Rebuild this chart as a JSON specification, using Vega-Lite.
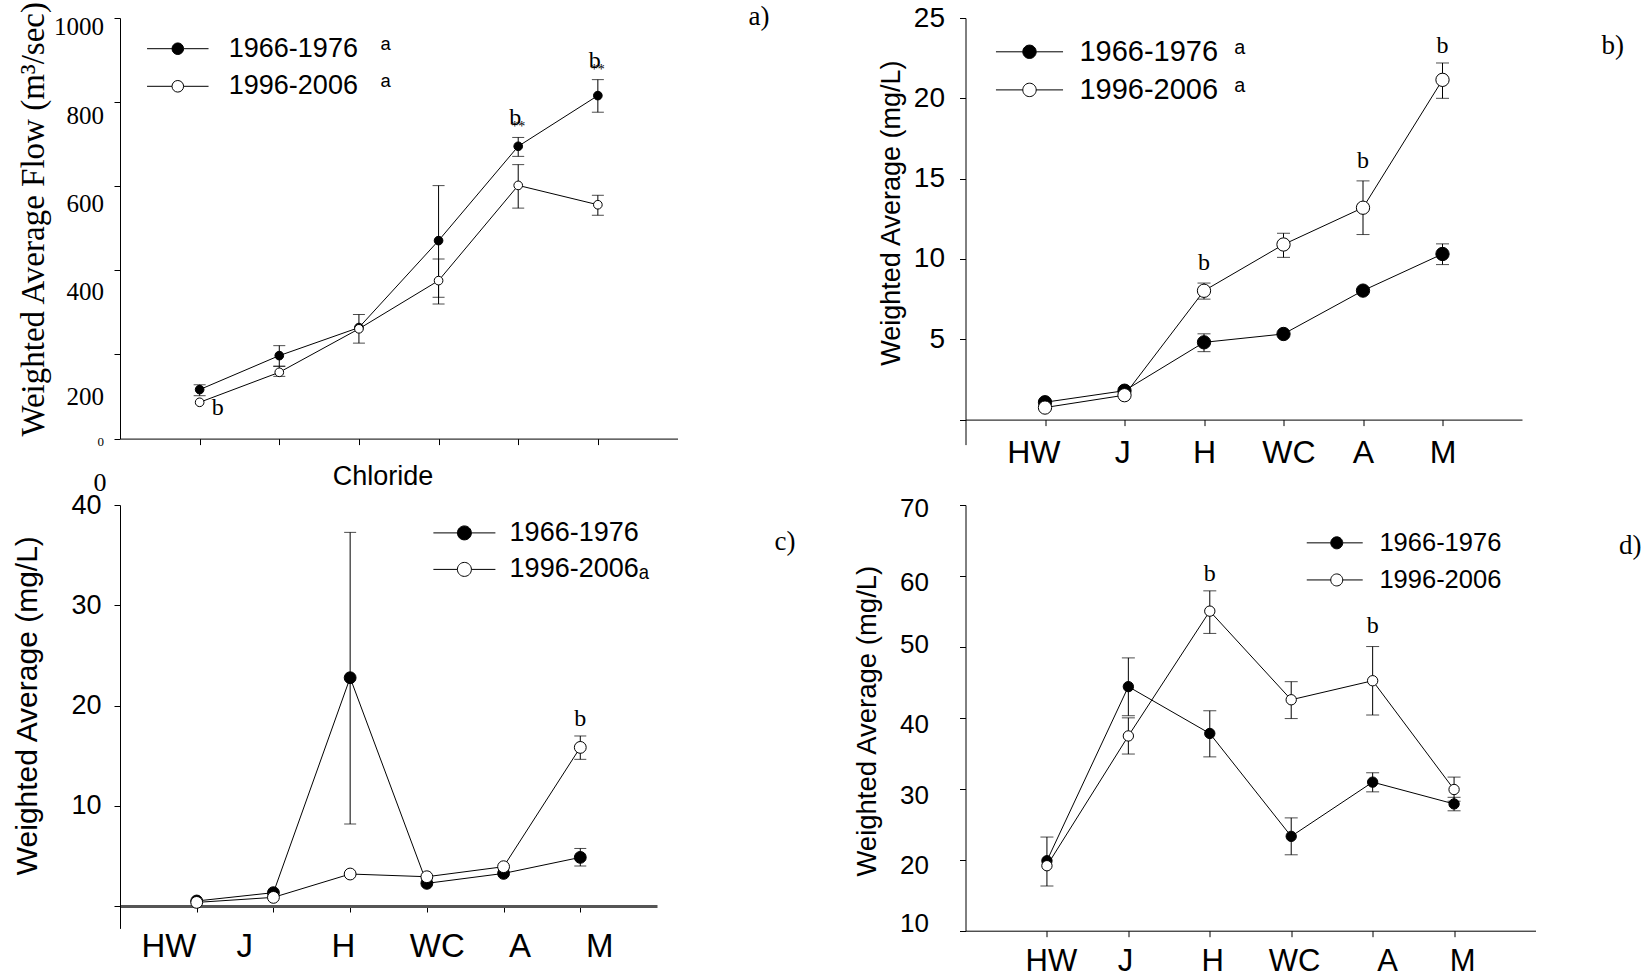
{
  "$schema": "https://vega.github.io/schema/vega-lite/v6.json",
  "padding": {"left": 12, "top": 0, "right": 0, "bottom": 0},
  "background": "white",
  "config": {
    "view": {"stroke": null},
    "axis": {"grid": false, "domainColor": "black", "tickColor": "black", "labelColor": "black", "titleColor": "black", "tickSize": 6, "domainWidth": 1, "tickWidth": 1, "labelFont": "Liberation Sans", "titleFont": "Liberation Sans", "labelFontWeight": "normal", "titleFontWeight": "normal", "labelAngle": 0, "labelOverlap": false, "labelBound": false},
    "legend": {"orient": "none", "padding": 0, "symbolOffset": 0, "labelFont": "Liberation Sans", "labelColor": "black", "labelLimit": 400, "symbolStrokeColor": "black", "symbolStrokeWidth": 1, "symbolOpacity": 1},
    "title": {"font": "Liberation Serif", "fontSize": 27, "fontWeight": "normal", "color": "black", "anchor": "end", "frame": "group", "offset": 0}
  },
  "datasets": {
    "flowA": [
      {"site": "HW", "series": "1966-1976", "value": 116.5, "lo": 102, "hi": 128},
      {"site": "J", "series": "1966-1976", "value": 197.3, "lo": 172, "hi": 221},
      {"site": "H", "series": "1966-1976", "value": 264, "lo": 227, "hi": 295},
      {"site": "WC", "series": "1966-1976", "value": 470.7, "lo": 336, "hi": 601.5},
      {"site": "A", "series": "1966-1976", "value": 695, "lo": 671, "hi": 716},
      {"site": "M", "series": "1966-1976", "value": 815.5, "lo": 776, "hi": 853.5},
      {"site": "HW", "series": "1996-2006", "value": 86.3, "lo": null, "hi": null},
      {"site": "J", "series": "1996-2006", "value": 157.6, "lo": 148, "hi": 172},
      {"site": "H", "series": "1996-2006", "value": 261, "lo": null, "hi": null},
      {"site": "WC", "series": "1996-2006", "value": 375.6, "lo": 320, "hi": 427},
      {"site": "A", "series": "1996-2006", "value": 602, "lo": 548, "hi": 651.4},
      {"site": "M", "series": "1996-2006", "value": 556, "lo": 531, "hi": 578.5}
    ],
    "notesA": [
      {"site": "HW", "text": "b", "value": 72.8},
      {"site": "A", "text": "b", "value": 762},
      {"site": "A", "text": "**", "value": 740},
      {"site": "M", "text": "b", "value": 897},
      {"site": "M", "text": "**", "value": 876}
    ],
    "concB": [
      {"site": "HW", "series": "1966-1976", "value": 1.08, "lo": null, "hi": null},
      {"site": "J", "series": "1966-1976", "value": 1.8, "lo": null, "hi": null},
      {"site": "H", "series": "1966-1976", "value": 4.81, "lo": 4.23, "hi": 5.34},
      {"site": "WC", "series": "1966-1976", "value": 5.33, "lo": null, "hi": null},
      {"site": "A", "series": "1966-1976", "value": 8.03, "lo": null, "hi": null},
      {"site": "M", "series": "1966-1976", "value": 10.31, "lo": 9.65, "hi": 10.94},
      {"site": "HW", "series": "1996-2006", "value": 0.75, "lo": null, "hi": null},
      {"site": "J", "series": "1996-2006", "value": 1.52, "lo": null, "hi": null},
      {"site": "H", "series": "1996-2006", "value": 8.02, "lo": 7.5, "hi": 8.5},
      {"site": "WC", "series": "1996-2006", "value": 10.9, "lo": 10.1, "hi": 11.6},
      {"site": "A", "series": "1996-2006", "value": 13.19, "lo": 11.52, "hi": 14.86},
      {"site": "M", "series": "1996-2006", "value": 21.15, "lo": 20.0, "hi": 22.2}
    ],
    "notesB": [
      {"site": "H", "text": "b", "value": 9.75},
      {"site": "A", "text": "b", "value": 16.08},
      {"site": "M", "text": "b", "value": 23.24}
    ],
    "chlorideC": [
      {"site": "HW", "series": "1966-1976", "value": 0.5, "lo": null, "hi": null},
      {"site": "J", "series": "1966-1976", "value": 1.33, "lo": null, "hi": null},
      {"site": "H", "series": "1966-1976", "value": 22.77, "lo": 8.18, "hi": 37.27},
      {"site": "WC", "series": "1966-1976", "value": 2.26, "lo": null, "hi": null},
      {"site": "A", "series": "1966-1976", "value": 3.25, "lo": null, "hi": null},
      {"site": "M", "series": "1966-1976", "value": 4.85, "lo": 3.99, "hi": 5.74},
      {"site": "HW", "series": "1996-2006", "value": 0.36, "lo": null, "hi": null},
      {"site": "J", "series": "1996-2006", "value": 0.86, "lo": null, "hi": null},
      {"site": "H", "series": "1996-2006", "value": 3.19, "lo": null, "hi": null},
      {"site": "WC", "series": "1996-2006", "value": 2.92, "lo": null, "hi": null},
      {"site": "A", "series": "1996-2006", "value": 3.92, "lo": null, "hi": null},
      {"site": "M", "series": "1996-2006", "value": 15.82, "lo": 14.63, "hi": 16.96}
    ],
    "notesC": [
      {"site": "M", "text": "b", "value": 18.7}
    ],
    "concD": [
      {"site": "HW", "series": "1966-1976", "value": 19.86, "lo": 16.3, "hi": 23.2},
      {"site": "J", "series": "1966-1976", "value": 44.4, "lo": 40.3, "hi": 48.45},
      {"site": "H", "series": "1966-1976", "value": 37.8, "lo": 34.5, "hi": 41},
      {"site": "WC", "series": "1966-1976", "value": 23.3, "lo": 20.7, "hi": 25.9},
      {"site": "A", "series": "1966-1976", "value": 30.94, "lo": 29.57, "hi": 32.26},
      {"site": "M", "series": "1966-1976", "value": 27.87, "lo": 26.9, "hi": 28.8},
      {"site": "HW", "series": "1996-2006", "value": 19.16, "lo": null, "hi": null},
      {"site": "J", "series": "1996-2006", "value": 37.45, "lo": 34.9, "hi": 40.0},
      {"site": "H", "series": "1996-2006", "value": 55.04, "lo": 51.9, "hi": 57.9},
      {"site": "WC", "series": "1996-2006", "value": 42.55, "lo": 39.9, "hi": 45.1},
      {"site": "A", "series": "1996-2006", "value": 45.23, "lo": 40.4, "hi": 50.05},
      {"site": "M", "series": "1996-2006", "value": 29.9, "lo": 28.25, "hi": 31.65}
    ],
    "notesD": [
      {"site": "H", "text": "b", "value": 60.3},
      {"site": "A", "text": "b", "value": 52.9}
    ]
  },
  "concat": [
    {
      "width": 557.5, "height": 420.6,
      "title": {"text": "a)", "dx": 92, "dy": 34},
      "data": {"name": "flowA"},
      "encoding": {
        "x": {"field": "site", "type": "nominal", "sort": ["HW", "J", "H", "WC", "A", "M"], "scale": {"type": "point", "padding": 1},
          "axis": {"labels": false, "title": "Chloride", "titleFontSize": 27, "titleX": 262.5, "titleY": 24.7}},
        "y": {"field": "value", "type": "quantitative", "scale": {"domain": [0, 1000], "nice": false, "zero": false},
          "axis": {"values": [0, 200, 400, 600, 800, 1000], "format": "d", "labelFont": "Liberation Serif",
            "labelFontSize": {"condition": {"test": "datum.value == 0", "value": 13}, "value": 25},
            "labelPadding": 10.5,
            "labelOffset": {"condition": [{"test": "datum.value == 1000", "value": 8}, {"test": "datum.value == 800", "value": 13}, {"test": "datum.value == 600", "value": 17}, {"test": "datum.value == 400", "value": 21}, {"test": "datum.value == 200", "value": 42}, {"test": "datum.value == 0", "value": 3}], "value": 0},
            "title": "Weighted Average Flow (m³/sec)", "titleFont": "Liberation Serif", "titleFontSize": 33, "titleX": -69.5, "titleY": 200.8}}
      },
      "layer": [
        {"mark": {"type": "line", "color": "black", "strokeWidth": 1}, "encoding": {"detail": {"field": "series"}}},
        {"transform": [{"filter": "isValid(datum.lo)"}], "mark": {"type": "errorbar", "ticks": {"size": 12}, "color": "black", "thickness": 1}, "encoding": {"y": {"field": "lo", "type": "quantitative"}, "y2": {"field": "hi"}}},
        {"mark": {"type": "point", "shape": "circle", "filled": true, "size": 75, "stroke": "black", "strokeWidth": 1, "opacity": 1},
          "encoding": {"fill": {"field": "series", "type": "nominal", "scale": {"domain": ["1966-1976", "1996-2006"], "range": ["black", "white"]},
            "legend": {"title": null, "legendX": 44.3, "legendY": 17.2, "labelFontSize": 27, "symbolType": "M-5.3,0L-1,0M1,0L5.3,0M1,0A1,1,0,1,1,-1,0A1,1,0,1,1,1,0Z", "symbolSize": 134.6, "labelOffset": 37.5, "rowPadding": 9.6, "labelExpr": "datum.label + '\u00a0\u00a0\u00a0ᵃ'"}}}},
        {"data": {"name": "notesA"}, "transform": [{"filter": "datum.site != 'HW' && datum.text == 'b'"}], "mark": {"type": "text", "font": "Liberation Serif", "fontSize": 24, "baseline": "middle", "align": "center", "color": "black", "dx": -3}, "encoding": {"text": {"field": "text"}}},
        {"data": {"name": "notesA"}, "transform": [{"filter": "datum.text == '**'"}], "mark": {"type": "text", "font": "Liberation Serif", "fontSize": 14, "baseline": "middle", "align": "center", "color": "black"}, "encoding": {"text": {"field": "text"}}},
        {"data": {"name": "notesA"}, "transform": [{"filter": "datum.site == 'HW'"}], "mark": {"type": "text", "font": "Liberation Serif", "fontSize": 24, "baseline": "middle", "align": "center", "color": "black", "dx": 18}, "encoding": {"text": {"field": "text"}}}
      ]
    },
    {
      "width": 556.5, "height": 426.6,
      "title": {"text": "b)", "dx": 102, "dy": 60.3},
      "data": {"name": "concB"},
      "encoding": {
        "x": {"field": "site", "type": "nominal", "sort": ["HW", "J", "H", "WC", "A", "M"], "scale": {"type": "point", "padding": 1},
          "axis": {"title": null, "offset": -25, "labelFontSize": 32, "labelPadding": 11.6,
            "labelOffset": {"condition": [{"test": "datum.value == 'HW'", "value": -11.7}, {"test": "datum.value == 'J'", "value": -2.3}, {"test": "datum.value == 'WC'", "value": 5}], "value": 0}}},
        "y": {"field": "value", "type": "quantitative", "scale": {"domain": [-1.556, 25], "nice": false, "zero": false},
          "axis": {"values": [0, 5, 10, 15, 20, 25], "labelExpr": "datum.value == 0 ? '' : datum.label", "labelFontSize": 28, "labelPadding": 15,
            "title": "Weighted Average (mg/L)", "titleFontSize": 27, "titleX": -60.5, "titleY": 194.6}}
      },
      "layer": [
        {"mark": {"type": "line", "color": "black", "strokeWidth": 1}, "encoding": {"detail": {"field": "series"}}},
        {"transform": [{"filter": "isValid(datum.lo)"}], "mark": {"type": "errorbar", "ticks": {"size": 13}, "color": "black", "thickness": 1}, "encoding": {"y": {"field": "lo", "type": "quantitative"}, "y2": {"field": "hi"}}},
        {"mark": {"type": "point", "shape": "circle", "filled": true, "size": 177, "stroke": "black", "strokeWidth": 1, "opacity": 1},
          "encoding": {"fill": {"field": "series", "type": "nominal", "scale": {"domain": ["1966-1976", "1996-2006"], "range": ["black", "white"]},
            "legend": {"title": null, "legendX": 49.5, "legendY": 19.3, "labelFontSize": 29, "symbolType": "M-5,0L-1,0M1,0L5,0M1,0A1,1,0,1,1,-1,0A1,1,0,1,1,1,0Z", "symbolSize": 180, "labelOffset": 35.4, "rowPadding": 8.1, "labelExpr": "datum.label + '\u00a0\u00a0ᵃ'"}}}},
        {"data": {"name": "notesB"}, "mark": {"type": "text", "font": "Liberation Serif", "fontSize": 24, "baseline": "middle", "align": "center", "color": "black"}, "encoding": {"text": {"field": "text"}}}
      ]
    },
    {
      "width": 537, "height": 423.4,
      "title": {"text": "c)", "dx": 138.5, "dy": 90.7},
      "data": {"name": "chlorideC"},
      "encoding": {
        "x": {"field": "site", "type": "nominal", "sort": ["HW", "J", "H", "WC", "A", "M"], "scale": {"type": "point", "padding": 1},
          "axis": {"title": null, "offset": -22.4, "domainColor": "#555555", "domainWidth": 3, "labelFontSize": 33, "labelPadding": 18,
            "labelOffset": {"condition": [{"test": "datum.value == 'HW'", "value": -28.3}, {"test": "datum.value == 'J'", "value": -29.3}, {"test": "datum.value == 'H'", "value": -7.3}, {"test": "datum.value == 'WC'", "value": 10}, {"test": "datum.value == 'A'", "value": 16}, {"test": "datum.value == 'M'", "value": 19}], "value": 0}}},
        "y": {"field": "value", "type": "quantitative", "scale": {"domain": [-2.234, 40], "nice": false, "zero": false},
          "axis": {"values": [0, 10, 20, 30, 40],
            "labelFont": {"condition": {"test": "datum.value == 0", "value": "Liberation Serif"}, "value": "Liberation Sans"},
            "labelFontSize": {"condition": {"test": "datum.value == 0", "value": 26}, "value": 27},
            "labelOffset": {"condition": {"test": "datum.value == 0", "value": -424}, "value": 0},
            "labelPadding": {"condition": {"test": "datum.value == 0", "value": 8}, "value": 13},
            "title": "Weighted Average (mg/L)", "titleFontSize": 30, "titleX": -77.5, "titleY": 200.2}}
      },
      "layer": [
        {"mark": {"type": "line", "color": "black", "strokeWidth": 1}, "encoding": {"detail": {"field": "series"}}},
        {"transform": [{"filter": "isValid(datum.lo)"}], "mark": {"type": "errorbar", "ticks": {"size": 12}, "color": "black", "thickness": 1}, "encoding": {"y": {"field": "lo", "type": "quantitative"}, "y2": {"field": "hi"}}},
        {"mark": {"type": "point", "shape": "circle", "filled": true, "size": 140, "stroke": "black", "strokeWidth": 1, "opacity": 1},
          "encoding": {"fill": {"field": "series", "type": "nominal", "scale": {"domain": ["1966-1976", "1996-2006"], "range": ["black", "white"]},
            "legend": {"title": null, "legendX": 330.9, "legendY": 14.4, "labelFontSize": 27, "symbolType": "M-4.43,0L-1,0M1,0L4.43,0M1,0A1,1,0,1,1,-1,0A1,1,0,1,1,1,0Z", "symbolSize": 196, "labelOffset": 31.7, "rowPadding": 8.5, "labelExpr": "datum.label == '1996-2006' ? datum.label + 'ₐ' : datum.label"}}}},
        {"data": {"name": "notesC"}, "mark": {"type": "text", "font": "Liberation Serif", "fontSize": 24, "baseline": "middle", "align": "center", "color": "black"}, "encoding": {"text": {"field": "text"}}}
      ]
    },
    {
      "width": 570, "height": 425.7,
      "title": {"text": "d)", "dx": 106, "dy": 68.7},
      "data": {"name": "concD"},
      "encoding": {
        "x": {"field": "site", "type": "nominal", "sort": ["HW", "J", "H", "WC", "A", "M"], "scale": {"type": "point", "padding": 1},
          "axis": {"title": null, "labelFontSize": 31, "labelPadding": 10,
            "labelOffset": {"condition": [{"test": "datum.value == 'HW'", "value": 4}, {"test": "datum.value == 'J'", "value": -3.3}, {"test": "datum.value == 'H'", "value": 2.3}, {"test": "datum.value == 'WC'", "value": 2.9}, {"test": "datum.value == 'A'", "value": 14.5}, {"test": "datum.value == 'M'", "value": 8}], "value": 0}}},
        "y": {"field": "value", "type": "quantitative", "scale": {"domain": [10, 70], "nice": false, "zero": false},
          "axis": {"values": [10, 20, 30, 40, 50, 60, 70], "labelFontSize": 26, "labelPadding": 31,
            "labelOffset": {"condition": [{"test": "datum.value == 70", "value": 3}, {"test": "datum.value == 60", "value": 7}, {"test": "datum.value == 50", "value": -2}, {"test": "datum.value == 40", "value": 7}, {"test": "datum.value == 30", "value": 7}, {"test": "datum.value == 20", "value": 6}, {"test": "datum.value == 10", "value": -7}], "value": 0},
            "title": "Weighted Average (mg/L)", "titleFontSize": 27.5, "titleX": -84.3, "titleY": 215.7}}
      },
      "layer": [
        {"mark": {"type": "line", "color": "black", "strokeWidth": 1}, "encoding": {"detail": {"field": "series"}}},
        {"transform": [{"filter": "isValid(datum.lo)"}], "mark": {"type": "errorbar", "ticks": {"size": 13}, "color": "black", "thickness": 1}, "encoding": {"y": {"field": "lo", "type": "quantitative"}, "y2": {"field": "hi"}}},
        {"mark": {"type": "point", "shape": "circle", "filled": true, "size": 107, "stroke": "black", "strokeWidth": 1, "opacity": 1},
          "encoding": {"fill": {"field": "series", "type": "nominal", "scale": {"domain": ["1966-1976", "1996-2006"], "range": ["black", "white"]},
            "legend": {"title": null, "legendX": 358.5, "legendY": 25.1, "labelFontSize": 25.5, "symbolType": "M-5,0L-1,0M1,0L4.33,0M1,0A1,1,0,1,1,-1,0A1,1,0,1,1,1,0Z", "symbolSize": 144, "labelOffset": 29.9, "rowPadding": 10.1}}}},
        {"data": {"name": "notesD"}, "mark": {"type": "text", "font": "Liberation Serif", "fontSize": 24, "baseline": "middle", "align": "center", "color": "black"}, "encoding": {"text": {"field": "text"}}}
      ]
    }
  ],
  "columns": 2,
  "spacing": {"row": 60, "column": 287.5},
  "bounds": "flush",
  "align": "each",
  "resolve": {"scale": {"x": "independent", "y": "independent", "fill": "independent"}, "legend": {"fill": "independent"}, "axis": {"x": "independent", "y": "independent"}}
}
